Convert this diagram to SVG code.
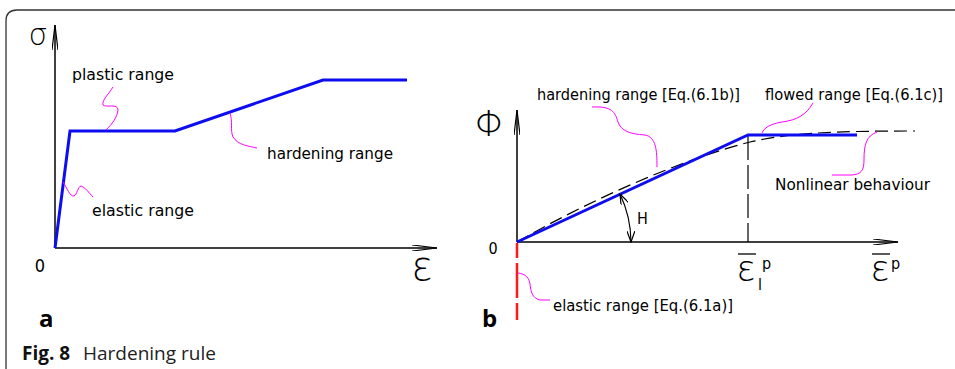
<svg xmlns="http://www.w3.org/2000/svg" width="955" height="369" viewBox="0 0 955 369">
<style>
.t{font-family:"DejaVu Sans Condensed","DejaVu Sans","Liberation Sans",sans-serif;font-size:16px;fill:#000}
.g{font-family:"DejaVu Sans","Liberation Sans",sans-serif;font-weight:200;fill:#000}
.ax{fill:none;stroke:#000;stroke-width:1.5}
.blue{fill:none;stroke:#0d0df0;stroke-width:3;stroke-linejoin:miter}
.mag{fill:none;stroke:#ff00ff;stroke-width:1}
.dash{fill:none;stroke:#000;stroke-width:1.2;stroke-dasharray:13 6}
.lbl{font-family:"Open Sans","Liberation Sans",sans-serif;font-weight:bold;font-size:24px;fill:#000}
.cap{font-family:"Open Sans","Liberation Sans",sans-serif;font-size:19px;fill:#222}
</style>
<defs>
<marker id="axarrow" viewBox="0 0 26 6" refX="25" refY="3" markerWidth="26" markerHeight="6" markerUnits="userSpaceOnUse" orient="auto">
<path d="M0,0 L25,3 L0,6" fill="none" stroke="#000" stroke-width="1.2"/>
</marker>
<marker id="harrow" viewBox="0 0 12 8" refX="11" refY="4" markerWidth="12" markerHeight="8" markerUnits="userSpaceOnUse" orient="auto-start-reverse">
<path d="M0,0 L11,4 L0,8" fill="none" stroke="#000" stroke-width="1.2"/>
</marker>
</defs>
<rect x="0" y="0" width="955" height="369" fill="#fff"/>
<path d="M6,369 L6,21 Q6,10 17,10 L955,10" fill="none" stroke="#333" stroke-width="1.3"/>

<g id="panel-a">
<g id="connectors-a">
<line class="ax" x1="55" y1="248" x2="55" y2="25" marker-end="url(#axarrow)"/>
<line class="ax" x1="55" y1="248" x2="437" y2="248" marker-end="url(#axarrow)"/>
<polyline class="blue" points="55,248 70,131 175,131 323,80 407,80"/>
<path class="mag" d="M113,87 C108,95 102,100 103,105 C106,108 118,103 118,110 C117,118 112,124 106,130"/>
<path class="mag" d="M230,113 C233,122 230,130 233,137 C238,145 248,146 257,148"/>
<path class="mag" d="M63,182 C67,188 70,197 74,196 C77,195 78,186 81,186 C85,187 89,193 93,197"/>
</g>
<g id="a-sigma"><text class="g" x="38" y="45" style="font-size:30px" text-anchor="middle">σ</text></g>
<g id="a-zero"><text class="t" x="40" y="272" style="font-size:18px" text-anchor="middle">0</text></g>
<g id="a-eps"><text class="g" x="422" y="280" style="font-size:40px" text-anchor="middle">ε</text></g>
<g id="a-plastic"><text class="t" x="72" y="80" textLength="102" lengthAdjust="spacingAndGlyphs">plastic range</text></g>
<g id="a-hardening"><text class="t" x="267" y="159" textLength="126" lengthAdjust="spacingAndGlyphs">hardening range</text></g>
<g id="a-elastic"><text class="t" x="92" y="216" textLength="102" lengthAdjust="spacingAndGlyphs">elastic range</text></g>
<g id="a-label"><text class="lbl" x="39" y="327">a</text></g>
</g>

<g id="panel-b">
<g id="connectors-b">
<line class="ax" x1="517" y1="242" x2="517" y2="110" marker-end="url(#axarrow)"/>
<line class="ax" x1="517" y1="242" x2="898" y2="242" marker-end="url(#axarrow)"/>
<path class="dash" d="M517,242 C590,200 680,160 750,142 C790,133 830,131 915,131"/>
<line x1="748" y1="136" x2="748" y2="242" stroke="#000" stroke-width="1.2" stroke-dasharray="24 5"/>
<polyline class="blue" points="517,242 748,135 857,135"/>
<line x1="517" y1="243" x2="517" y2="320" stroke="#ff1a1a" stroke-width="2.5" stroke-dasharray="15 5 35 5 20"/>
<path d="M620,194 A114,114 0 0 1 631,242" fill="none" stroke="#000" stroke-width="1.2" marker-start="url(#harrow)" marker-end="url(#harrow)"/>
<path class="mag" d="M592,107 C612,106 615,112 618,122 C621,131 630,134 645,135 C656,137 657,150 657,167"/>
<path class="mag" d="M813,103 C806,115 797,120 782,122 C770,124 764,128 762,133"/>
<path class="mag" d="M877,132 C866,136 864,145 864,160 C864,171 861,174 852,175 L832,175"/>
<path class="mag" d="M518,273 C526,274 529,278 530,284 C531,292 532,298 540,300 L550,300"/>
</g>
<g id="b-phi"><text class="g" x="490" y="136" style="font-size:36px" text-anchor="middle">Φ</text></g>
<g id="b-zero"><text class="t" x="493" y="254" text-anchor="middle">0</text></g>
<g id="b-epsl">
<line x1="738" y1="254" x2="756" y2="254" stroke="#000" stroke-width="1.3"/>
<text class="g" x="746" y="281" style="font-size:36px" text-anchor="middle">ε</text>
<text class="t" x="758" y="290">l</text>
<text class="t" x="762" y="269">p</text>
</g>
<g id="b-eps">
<line x1="872" y1="254" x2="890" y2="254" stroke="#000" stroke-width="1.3"/>
<text class="g" x="880" y="281" style="font-size:36px" text-anchor="middle">ε</text>
<text class="t" x="891" y="269">p</text>
</g>
<g id="b-H"><text class="t" x="637" y="224">H</text></g>
<g id="b-hardening"><text class="t" x="537" y="100" textLength="203" lengthAdjust="spacingAndGlyphs">hardening range [Eq.(6.1b)]</text></g>
<g id="b-flowed"><text class="t" x="765" y="100" textLength="178" lengthAdjust="spacingAndGlyphs">flowed range [Eq.(6.1c)]</text></g>
<g id="b-nonlinear"><text class="t" x="775" y="190" textLength="155" lengthAdjust="spacingAndGlyphs">Nonlinear behaviour</text></g>
<g id="b-elastic"><text class="t" x="553" y="311" textLength="180" lengthAdjust="spacingAndGlyphs">elastic range [Eq.(6.1a)]</text></g>
<g id="b-label"><text class="lbl" x="482" y="327">b</text></g>
</g>

<g id="caption">
<text class="cap" x="22" y="360"><tspan font-weight="bold" fill="#111">Fig. 8</tspan><tspan x="83">Hardening rule</tspan></text>
</g>
</svg>
